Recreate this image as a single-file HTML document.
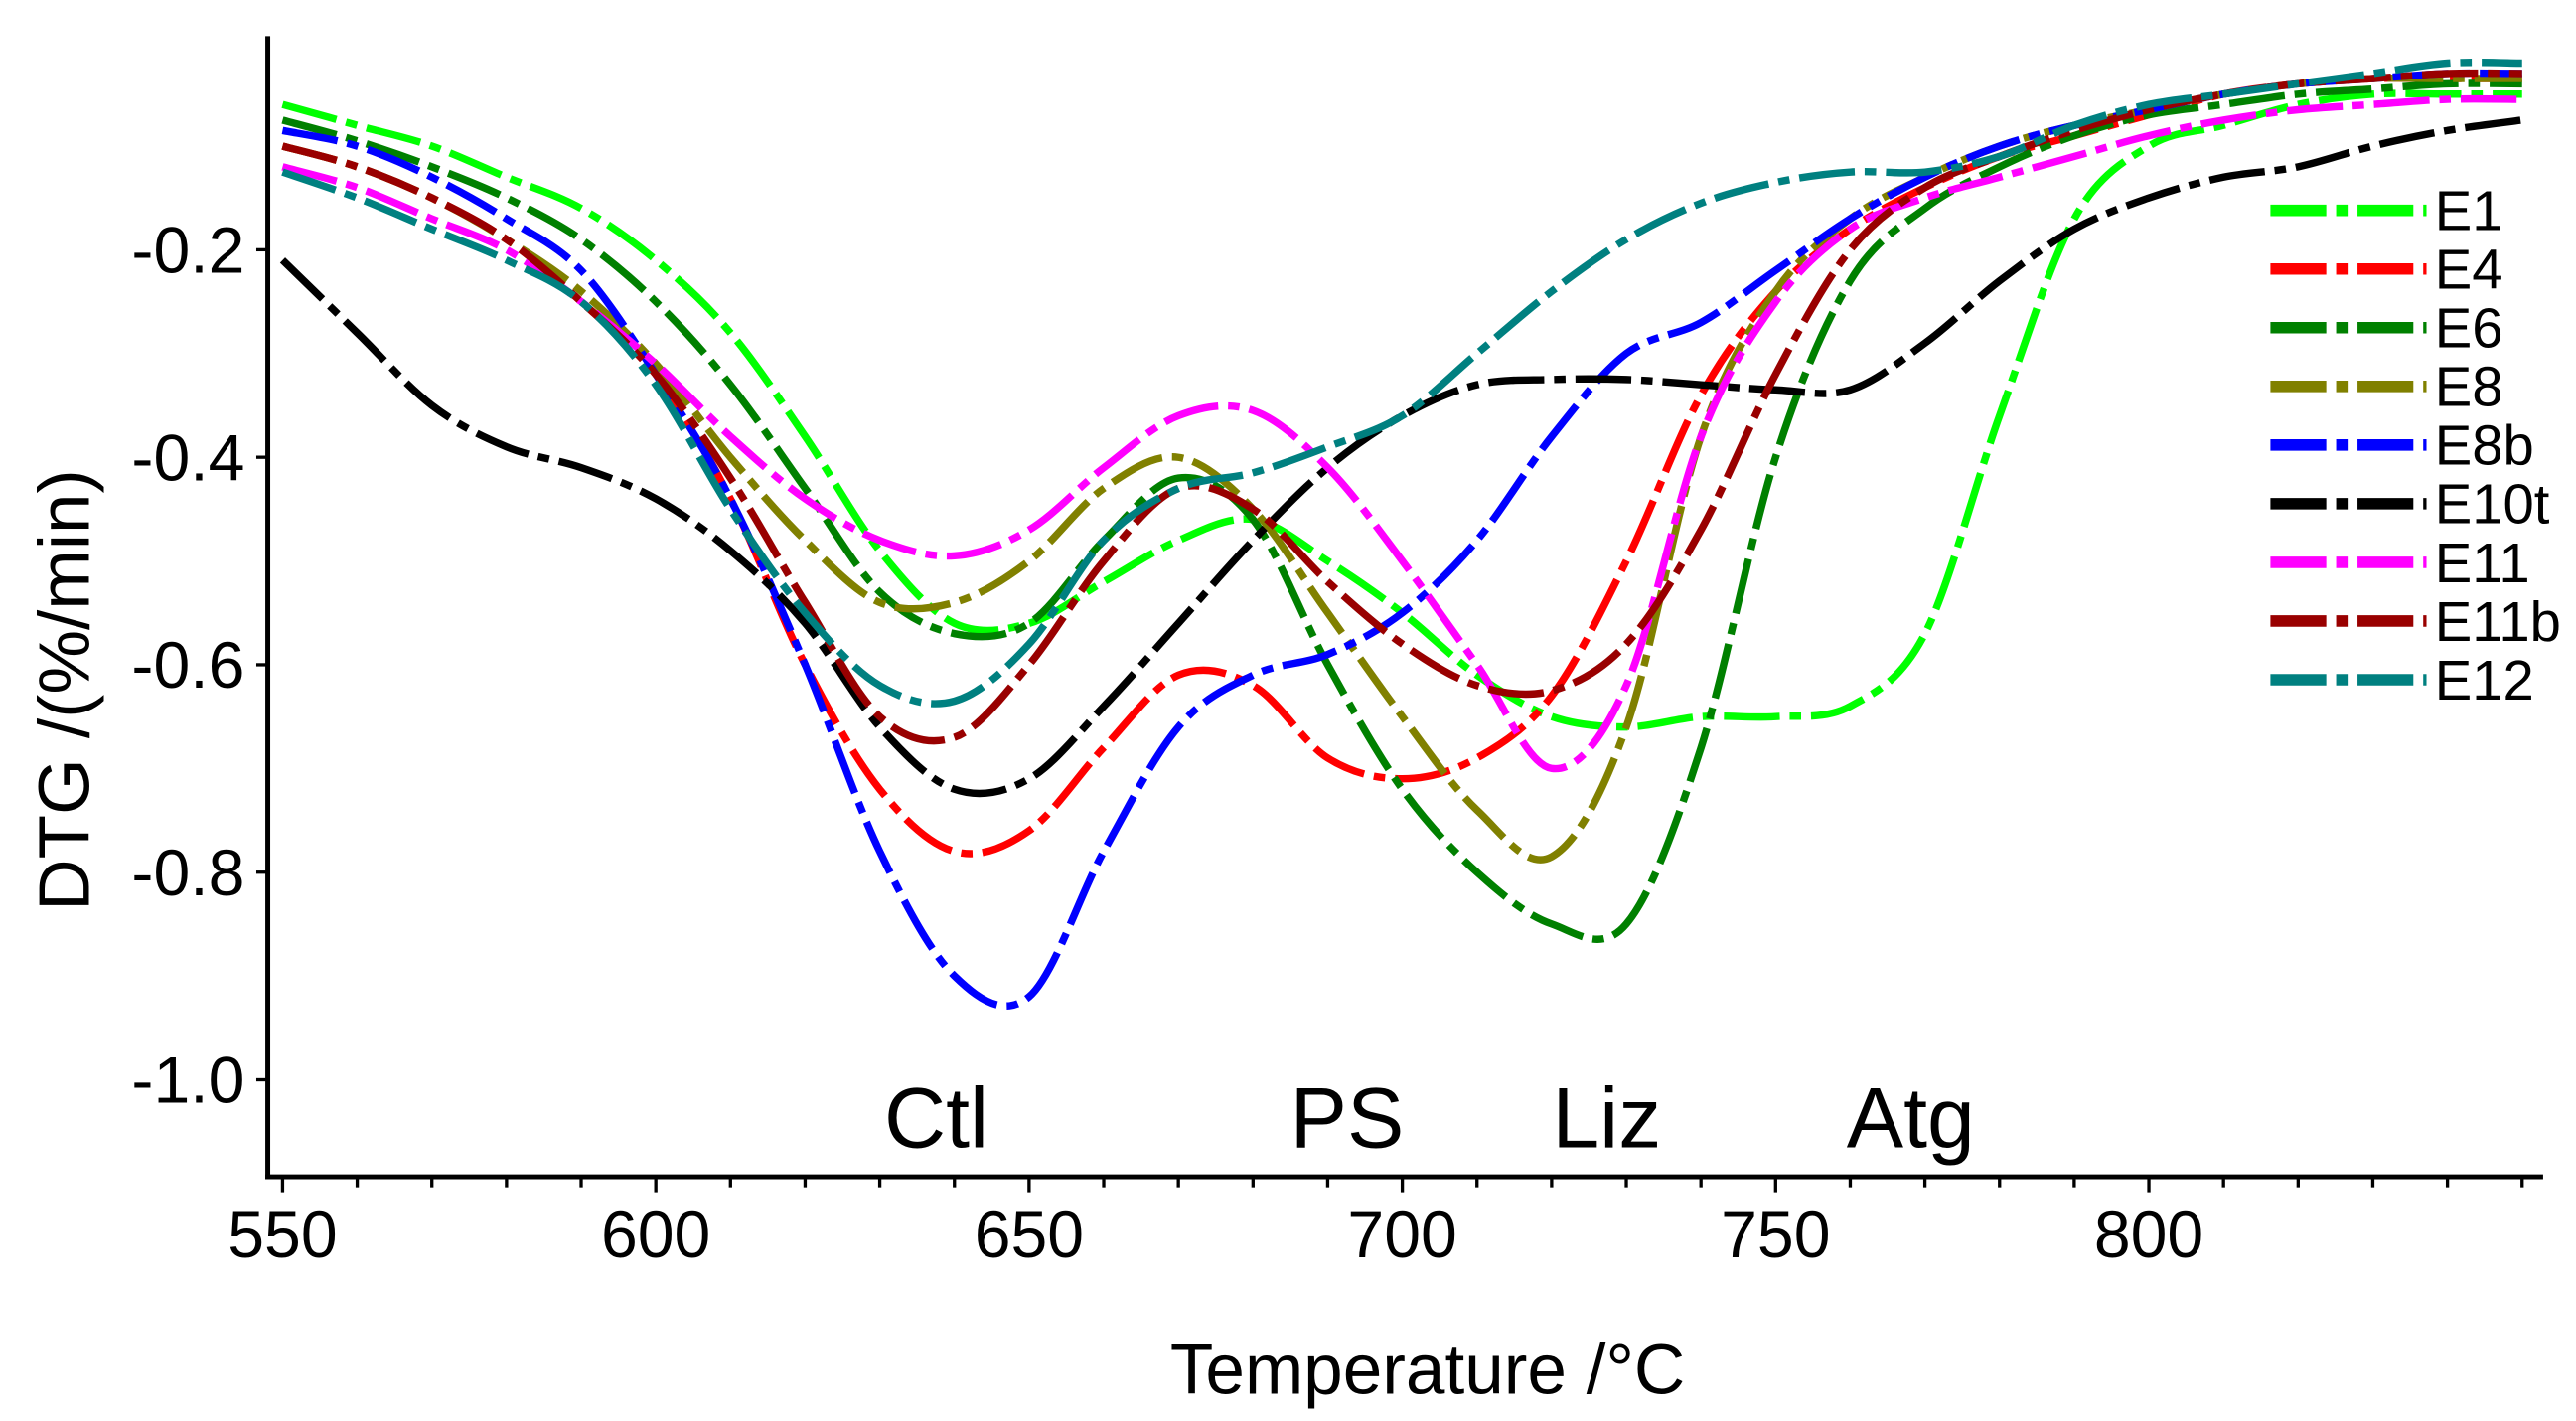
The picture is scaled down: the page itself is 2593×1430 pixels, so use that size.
<!DOCTYPE html>
<html><head><meta charset="utf-8"><style>
html,body{margin:0;padding:0;background:#fff;}
svg{display:block;font-family:"Liberation Sans",sans-serif;}
</style></head><body>
<svg id="chart" width="2593" height="1430" viewBox="0 0 1568 864.7" xmlns="http://www.w3.org/2000/svg">
<rect x="0" y="0" width="1568" height="864.7" fill="#fff"/>
<g id="axes"></g>
<g id="series"></g>
<g id="legend"></g>
<text x="570" y="698" font-size="52" text-anchor="middle">Ctl</text>
<text x="820" y="698" font-size="52" text-anchor="middle">PS</text>
<text x="978" y="698" font-size="52" text-anchor="middle">Liz</text>
<text x="1163" y="698" font-size="52" text-anchor="middle">Atg</text>
<text x="869" y="848" font-size="43" text-anchor="middle">Temperature /°C</text>
<text transform="translate(54,420) rotate(-90)" font-size="44" text-anchor="middle">DTG /(%/min)</text>
</svg>
<script>
const temps = [550,560,570,580,590,600,610,620,630,640,650,660,670,680,690,700,710,720,730,740,750,760,770,780,790,800,810,820,830,840,850];
const seriesNames = ["E1","E4","E6","E8","E8b","E10t","E11","E11b","E12"];
const seriesColors = ["#00ff00","#ff0000","#008000","#808000","#0000ff","#000000","#ff00ff","#990000","#008080"];
const e1 = [-0.06,-0.08,-0.10,-0.13,-0.16,-0.21,-0.28,-0.38,-0.49,-0.56,-0.56,-0.52,-0.48,-0.46,-0.50,-0.55,-0.61,-0.65,-0.66,-0.65,-0.65,-0.64,-0.57,-0.36,-0.17,-0.10,-0.08,-0.06,-0.05,-0.05,-0.05];
const e4 = [-0.10,-0.12,-0.15,-0.19,-0.25,-0.32,-0.44,-0.60,-0.72,-0.78,-0.76,-0.68,-0.61,-0.62,-0.69,-0.71,-0.69,-0.63,-0.50,-0.34,-0.24,-0.18,-0.14,-0.11,-0.09,-0.07,-0.05,-0.04,-0.035,-0.035,-0.035];
const e6 = [-0.075,-0.095,-0.12,-0.15,-0.19,-0.25,-0.33,-0.43,-0.53,-0.57,-0.56,-0.48,-0.42,-0.46,-0.60,-0.72,-0.80,-0.85,-0.85,-0.68,-0.40,-0.23,-0.16,-0.12,-0.09,-0.07,-0.06,-0.05,-0.045,-0.04,-0.04];
const e8 = [-0.10,-0.12,-0.15,-0.19,-0.24,-0.31,-0.40,-0.48,-0.54,-0.54,-0.50,-0.43,-0.40,-0.45,-0.55,-0.65,-0.74,-0.785,-0.66,-0.38,-0.24,-0.17,-0.13,-0.10,-0.08,-0.065,-0.05,-0.04,-0.035,-0.035,-0.035];
const e8b = [-0.085,-0.10,-0.13,-0.17,-0.22,-0.32,-0.44,-0.60,-0.78,-0.90,-0.92,-0.78,-0.66,-0.61,-0.59,-0.55,-0.48,-0.38,-0.30,-0.27,-0.22,-0.17,-0.13,-0.10,-0.08,-0.065,-0.05,-0.04,-0.035,-0.03,-0.03];
const e10t = [-0.21,-0.28,-0.35,-0.39,-0.41,-0.44,-0.49,-0.56,-0.66,-0.72,-0.71,-0.64,-0.56,-0.48,-0.41,-0.36,-0.33,-0.325,-0.325,-0.33,-0.335,-0.335,-0.29,-0.23,-0.18,-0.15,-0.13,-0.12,-0.10,-0.085,-0.075];
const e11 = [-0.12,-0.14,-0.17,-0.20,-0.25,-0.31,-0.38,-0.44,-0.48,-0.495,-0.47,-0.41,-0.36,-0.355,-0.41,-0.50,-0.60,-0.70,-0.62,-0.38,-0.25,-0.18,-0.15,-0.13,-0.11,-0.09,-0.075,-0.065,-0.06,-0.055,-0.055];
const e11b = [-0.10,-0.12,-0.15,-0.19,-0.25,-0.32,-0.42,-0.54,-0.65,-0.67,-0.60,-0.50,-0.43,-0.45,-0.52,-0.58,-0.62,-0.625,-0.58,-0.47,-0.32,-0.20,-0.14,-0.11,-0.085,-0.065,-0.05,-0.04,-0.035,-0.03,-0.03];
const e12 = [-0.125,-0.15,-0.18,-0.21,-0.25,-0.33,-0.45,-0.55,-0.62,-0.635,-0.58,-0.48,-0.43,-0.415,-0.39,-0.36,-0.30,-0.24,-0.19,-0.155,-0.135,-0.125,-0.125,-0.11,-0.08,-0.06,-0.05,-0.04,-0.03,-0.02,-0.02];
const seriesValues = [e1,e4,e6,e8,e8b,e10t,e11,e11b,e12];
const xTicks = [550,600,650,700,750,800];
const yTicks = [-0.2,-0.4,-0.6,-0.8,-1.0];
const yTickLabels = ["-0.2","-0.4","-0.6","-0.8","-1.0"];

(function(){
const NS = "http://www.w3.org/2000/svg";
function xs(t){ return 172 + (t-550)*4.544; }
function ys(v){ return 152 + (-0.2 - v)*631.25; }
function mk(tag, attrs, parent){ const e=document.createElementNS(NS,tag); for(const k in attrs) e.setAttribute(k,attrs[k]); parent.appendChild(e); return e; }

const axes = document.getElementById('axes');
const pLeft=163, pBottom=716, pTop=22, pRight=1548;
let sp = mk('line',{x1:pLeft,y1:pTop,x2:pLeft,y2:pBottom+1.5,stroke:'#000','stroke-width':3},axes);


sp = mk('line',{x1:pLeft-1.5,y1:pBottom,x2:pRight,y2:pBottom,stroke:'#000','stroke-width':3},axes);


for(let t=550;t<=850;t+=10){
  const major = xTicks.indexOf(t)>=0;
  const tk = mk('line',{x1:xs(t),y1:pBottom,x2:xs(t),y2:pBottom+(major?10:7),stroke:'#000','stroke-width':2},axes);
  
  
}
xTicks.forEach(t=>{
  const l = mk('text',{x:xs(t),y:765,'font-size':40,'text-anchor':'middle'},axes);
  l.textContent = t;
  
  
});
yTicks.forEach((v,i)=>{
  const tk = mk('line',{x1:pLeft-7,y1:ys(v),x2:pLeft,y2:ys(v),stroke:'#000','stroke-width':2},axes);
  
  
  const l = mk('text',{x:149,y:ys(v)+14,'font-size':40,'text-anchor':'end'},axes);
  l.textContent = yTickLabels[i];
  
  
});

function smooth(pts){
  let d = 'M'+pts[0][0].toFixed(1)+','+pts[0][1].toFixed(1);
  for(let i=0;i<pts.length-1;i++){
    const p0=pts[Math.max(0,i-1)],p1=pts[i],p2=pts[i+1],p3=pts[Math.min(pts.length-1,i+2)];
    const c1x=p1[0]+(p2[0]-p0[0])/6,c1y=p1[1]+(p2[1]-p0[1])/6;
    const c2x=p2[0]-(p3[0]-p1[0])/6,c2y=p2[1]-(p3[1]-p1[1])/6;
    d+=' C'+c1x.toFixed(1)+','+c1y.toFixed(1)+' '+c2x.toFixed(1)+','+c2y.toFixed(1)+' '+p2[0].toFixed(1)+','+p2[1].toFixed(1);
  }
  return d;
}
const sg = document.getElementById('series');
seriesValues.forEach((vals,i)=>{
  const pts = temps.map((t,j)=>[xs(t),ys(vals[j])]);
  const p = mk('path',{d:smooth(pts),fill:'none',stroke:seriesColors[i],'stroke-width':4.5,'stroke-dasharray':'34 6 7 6','stroke-linejoin':'round'},sg);
  
  
});
const lg = document.getElementById('legend');
seriesNames.forEach((n,i)=>{
  const y = 128 + i*35.7;
  const ln = mk('line',{x1:1382,y1:y,x2:1477,y2:y,stroke:seriesColors[i],'stroke-width':7,'stroke-dasharray':'34 6 7 6'},lg);
  
  
  const tx = mk('text',{x:1482,y:y+12,'font-size':34},lg);
  tx.textContent = n;
  
  
});
})();
</script>
</body></html>
